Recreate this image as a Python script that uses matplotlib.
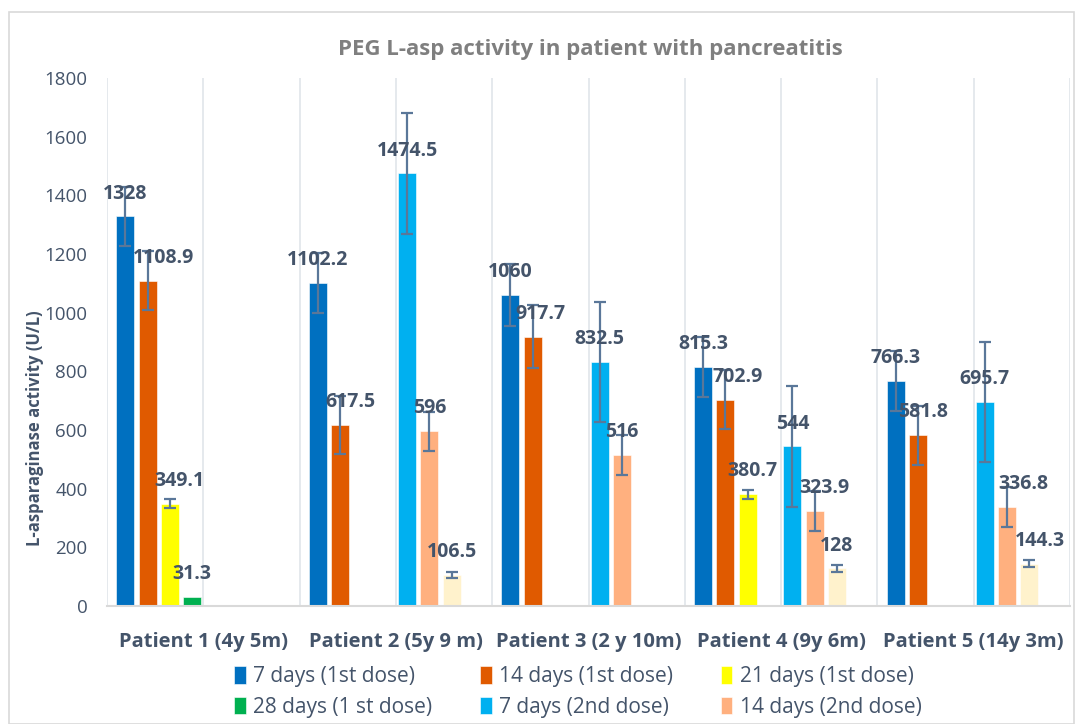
import numpy as np
import matplotlib.pyplot as plt
from matplotlib.patches import Rectangle

plt.rcParams['font.family'] = ['Open Sans', 'DejaVu Sans']

nan = np.nan

patients = ["Patient 1 (4y 5m)", "Patient 2 (5y 9 m)", "Patient 3 (2 y 10m)",
            "Patient 4 (9y 6m)", "Patient 5 (14y 3m)"]

series_names = ["7 days (1st dose)", "14 days (1st dose)", "21 days (1st dose)",
                "28 days (1 st dose)", "7 days (2nd dose)", "14 days (2nd dose)",
                "21 days (2nd dose)", "28 days (2nd dose)"]

d7_1st = [1328, 1102.2, 1060, 815.3, 766.3]
d14_1st = [1108.9, 617.5, 917.7, 702.9, 581.8]
d21_1st = [349.1, nan, nan, 380.7, nan]
d28_1st = [31.3, nan, nan, nan, nan]
d7_2nd = [nan, 1474.5, 832.5, 544, 695.7]
d14_2nd = [nan, 596, 516, 323.9, 336.8]
d21_2nd = [nan, 106.5, nan, 128, 144.3]
d28_2nd = [nan, nan, nan, nan, nan]

# error bar half-lengths
e7_1st = [102, 102, 105, 102, 102]
e14_1st = [100, 100, 108, 100, 100]
e21_1st = [15, nan, nan, 16, nan]
e28_1st = [nan, nan, nan, nan, nan]
e7_2nd = [nan, 205, 205, 205, 205]
e14_2nd = [nan, 66, 68, 68, 68]
e21_2nd = [nan, 11, nan, 11, 11]
e28_2nd = [nan, nan, nan, nan, nan]

values = [d7_1st, d14_1st, d21_1st, d28_1st, d7_2nd, d14_2nd, d21_2nd, d28_2nd]
errors = [e7_1st, e14_1st, e21_1st, e28_1st, e7_2nd, e14_2nd, e21_2nd, e28_2nd]

colors = ["#0070C0", "#E05A00", "#FFFF00", "#00B050", "#00B0F0", "#FFB07F",
          "#FFF2CC", "#A5A5A5"]

# horizontal nudges (pixels) for some data labels, as placed in the original
label_dx = {(1, 0): 16, (1, 1): 10, (1, 2): 8, (2, 0): 10, (1, 3): 12,
            (2, 3): 5, (5, 3): 10, (1, 4): 5, (5, 4): 16, (6, 4): 10}

text_col = "#44546A"
err_col = "#5A7799"

fig = plt.figure(figsize=(10.75, 7.24), dpi=100)
fig.patches.append(Rectangle((9 / 1075, 0), 1 - 10 / 1075, 1 - 12 / 724,
                             transform=fig.transFigure, fill=False,
                             edgecolor="#D9D9D9", lw=1.2))
ax = fig.add_axes([107 / 1075, 118 / 724, 963 / 1075, 528 / 724])

x = np.arange(len(patients))
slot = 0.1158
bw = 0.0935
for i, (vals, errs) in enumerate(zip(values, errors)):
    xs = x + (i - 3.5) * slot
    v = np.array(vals, dtype=float)
    e = np.array(errs, dtype=float)
    ax.bar(xs, v, width=bw, color=colors[i], edgecolor="white", linewidth=0.4,
           label=series_names[i], zorder=2)
    ok = ~np.isnan(e) & ~np.isnan(v)
    if ok.any():
        ax.errorbar(xs[ok], v[ok], yerr=e[ok], fmt="none", ecolor=err_col,
                    elinewidth=1.6, capsize=4, capthick=1.6, zorder=3)
    for j in range(len(patients)):
        if np.isnan(v[j]):
            continue
        lbl = f"{v[j]:g}"
        ax.annotate(lbl, (xs[j], v[j]), xytext=(label_dx.get((i, j), 0) * 0.72, 16.5),
                    textcoords="offset points", ha="center", va="center",
                    fontsize=14, fontweight="bold", color=text_col, zorder=4)

ax.set_xlim(-0.5, len(patients) - 0.5)
ax.set_ylim(0, 1800)
ax.set_yticks(np.arange(0, 1801, 200))
for gx in np.arange(-0.5, len(patients), 0.5):
    ax.axvline(gx, color="#E3E7EC", lw=1.3, zorder=1)

ax.set_xticks(x)
ax.set_xticklabels(patients, fontsize=14.5, fontweight="bold", color=text_col)
ax.tick_params(axis="x", length=0, pad=19)
ax.tick_params(axis="y", length=0, pad=14, labelsize=13.5, labelcolor=text_col)
for s in ["top", "right", "left"]:
    ax.spines[s].set_visible(False)
ax.spines["bottom"].set_color("#D9D9D9")
ax.spines["bottom"].set_linewidth(1.5)

fig.text(590 / 1075, 1 - 49 / 724, "PEG L-asp activity in patient with pancreatitis",
         ha="center", va="center", fontsize=16, fontweight="bold", color="#7F7F7F")
fig.text(35 / 1075, 1 - 428 / 724, "L-asparaginase activity (U/L)", rotation=90,
         ha="center", va="center", fontsize=12, fontweight="bold", color=text_col)

# legend filled row by row (matplotlib fills columns first)
handles, labels = ax.get_legend_handles_labels()
order = [0, 3, 1, 4, 2, 5]
leg = fig.legend([handles[k] for k in order], [labels[k] for k in order],
                 loc="center", ncol=3,
                 bbox_to_anchor=(578 / 1075, 1 - 692 / 724), frameon=False,
                 fontsize=15, handlelength=0.55, handleheight=0.9, handletextpad=0.35,
                 columnspacing=2.3, labelspacing=0.45)
for t in leg.get_texts():
    t.set_color(text_col)

fig.savefig("out.png", dpi=100)
